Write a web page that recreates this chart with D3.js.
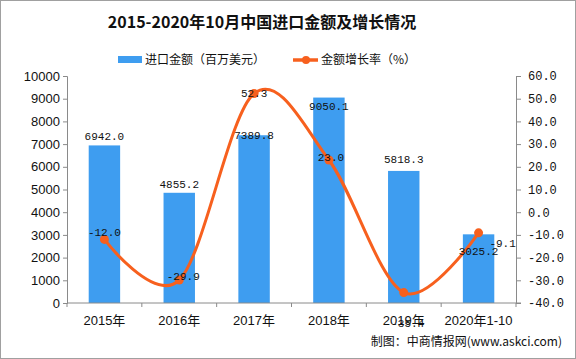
<!DOCTYPE html>
<html><head><meta charset="utf-8">
<script src="https://cdn.jsdelivr.net/npm/d3@7"></script>
<style>body{margin:0;background:#fff}svg{display:block}</style>
</head><body><svg id="c" width="576" height="359"></svg>
<script>
const categories = ["2015年","2016年","2017年","2018年","2019年","2020年1-10"];
const importValues = [6942.0, 4855.2, 7389.8, 9050.1, 5818.3, 3025.2];
const growthRates = [-12.0, -29.9, 52.3, 23.0, -35.4, -9.1];
const leftTicks = [0,1000,2000,3000,4000,5000,6000,7000,8000,9000,10000];
const rightTicks = [-40,-30,-20,-10,0,10,20,30,40,50,60];

const svg = d3.select("#c");
const W = 576, H = 359;
const L = 67, R = 516, T = 76, B = 303;
const blue = "#3E9DF0", orange = "#F7601E", axisCol = "#8a8a8a";
const cjk = "'Noto Sans CJK SC', sans-serif";

svg.append("rect").attr("x",0.5).attr("y",0.5).attr("width",W-1).attr("height",H-1)
  .attr("fill","#fff").attr("stroke","#a0a0a0");

const x = d3.scaleBand().domain(categories).range([L,R]).paddingInner(0.58).paddingOuter(0.29);
const yL = d3.scaleLinear().domain([0,10000]).range([B,T]);
const yR = d3.scaleLinear().domain([-40,60]).range([B,T]);

// bars
svg.append("g").selectAll("rect").data(importValues).join("rect")
  .attr("x",(d,i)=>x(categories[i])).attr("width",x.bandwidth())
  .attr("y",d=>yL(d)).attr("height",d=>B-yL(d)).attr("fill",blue);

// axes
const axL = svg.append("g").attr("transform",`translate(${L},0)`)
  .call(d3.axisLeft(yL).tickValues(leftTicks).tickFormat(d3.format("d")).tickSize(4).tickPadding(3));
axL.selectAll("text").attr("font-family","'Liberation Sans', Arial, sans-serif").attr("font-size",13).attr("fill","#111");
const axR = svg.append("g").attr("transform",`translate(${R},0)`)
  .call(d3.axisRight(yR).tickValues(rightTicks).tickFormat(d3.format(".1f")).tickSize(5).tickPadding(7));
axR.selectAll("text").attr("font-family","'Liberation Mono', monospace").attr("font-size",12).attr("fill","#111")
  .text(d=>d3.format(".1f")(d).replace("−","-"));
const xb = d3.scaleLinear().domain([0,6]).range([L,R]);
const axB = svg.append("g").attr("transform",`translate(0,${B})`);
axB.append("line").attr("x1",L).attr("x2",R+5).attr("stroke",axisCol);
axB.selectAll("line.t").data(d3.range(7)).join("line").attr("class","t")
  .attr("x1",d=>xb(d)).attr("x2",d=>xb(d)).attr("y1",0).attr("y2",4).attr("stroke",axisCol);
axB.selectAll("text").data(categories).join("text")
  .attr("x",d=>x(d)+x.bandwidth()/2).attr("y",22).attr("text-anchor","middle")
  .attr("font-family","'Liberation Sans', "+cjk).attr("font-size",13).attr("fill","#111").text(d=>d);
[axL,axR].forEach(a=>{a.selectAll("path,line").attr("stroke",axisCol);});

// line
const cx = i => x(categories[i]) + x.bandwidth()/2;
const line = d3.line().x((d,i)=>cx(i)).y(d=>yR(d)).curve(d3.curveCatmullRom.alpha(0));
svg.append("path").datum(growthRates).attr("d",line).attr("fill","none")
  .attr("stroke",orange).attr("stroke-width",3);
svg.append("g").selectAll("circle").data(growthRates).join("circle")
  .attr("cx",(d,i)=>cx(i)).attr("cy",d=>yR(d)).attr("r",4.5).attr("fill",orange);

// bar labels (offsets mimic the reference placement)
const barLabelDy = [-5,-5,4,12,-8,21];
svg.append("g").selectAll("text").data(importValues).join("text")
  .attr("x",(d,i)=>cx(i)).attr("y",(d,i)=>yL(d)+barLabelDy[i])
  .attr("text-anchor","middle").attr("font-family","'Liberation Mono', monospace")
  .attr("font-size",11).attr("fill","#111").text(d=>d.toFixed(1));
// line labels
const lineLabelDx = [0,4,0,2,4,24];
const lineLabelDy = [-3,0,4,1,34,14];
svg.append("g").selectAll("text").data(growthRates).join("text")
  .attr("x",(d,i)=>cx(i)+lineLabelDx[i]).attr("y",(d,i)=>yR(d)+lineLabelDy[i])
  .attr("text-anchor","middle").attr("font-family","'Liberation Mono', monospace")
  .attr("font-size",11).attr("fill","#111").text(d=>d.toFixed(1));

// title
svg.append("text").attr("x",262).attr("y",28).attr("text-anchor","middle")
  .attr("font-family",cjk).attr("font-weight","bold").attr("font-size",16).attr("fill","#111")
  .text("2015-2020年10月中国进口金额及增长情况");

// legend
const lg = svg.append("g");
lg.append("rect").attr("x",118).attr("y",56).attr("width",24).attr("height",7).attr("fill",blue);
lg.append("text").attr("x",145).attr("y",64).attr("font-family",cjk).attr("font-size",12).attr("fill","#111").text("进口金额（百万美元）");
lg.append("line").attr("x1",293).attr("x2",318).attr("y1",60).attr("y2",60).attr("stroke",orange).attr("stroke-width",3.5);
lg.append("circle").attr("cx",306).attr("cy",60).attr("r",4).attr("fill",orange);
lg.append("text").attr("x",321).attr("y",64).attr("font-family",cjk).attr("font-size",12).attr("fill","#111").text("金额增长率（%）");

// footer
svg.append("text").attr("x",562).attr("y",346).attr("text-anchor","end")
  .attr("font-family",cjk).attr("font-size",12).attr("fill","#111").text("制图：中商情报网(www.askci.com)");
</script></body></html>
